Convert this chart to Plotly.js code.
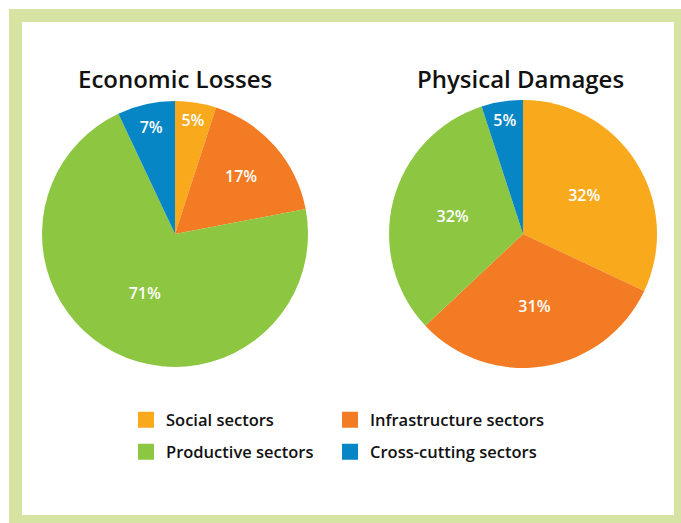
<!DOCTYPE html>
<html>
<head>
<meta charset="utf-8">
<script src="https://cdn.plot.ly/plotly-3.0.1.min.js"></script>
<style>
  html, body { margin: 0; padding: 0; background: #ffffff; overflow: hidden; }
  #wrap { position: relative; width: 681px; height: 523px; overflow: hidden; }
  #frame { position: absolute; left: 9px; top: 9px; width: 652px; height: 493px;
           border: 13px solid #d5e4a2; pointer-events: none; }
  #chart { position: absolute; left: 0; top: 0; width: 681px; height: 523px; }
</style>
</head>
<body>
<div id="wrap">
  <div id="frame"></div>
  <div id="chart"></div>
</div>
<script>
// ---- data ----
const categories = ["Social sectors", "Infrastructure sectors", "Productive sectors", "Cross-cutting sectors"];
const economicLosses = [5, 17, 71, 7];
const physicalDamages = [32, 31, 32, 5];
const chartTitles = ["Economic Losses", "Physical Damages"];
const colors = ["#f9a91c", "#f37b23", "#8dc641", "#0686c5"];
const legendIds = ["legend", "legend2", "legend3", "legend4"];

const FONT = "'Open Sans', 'Noto Sans', sans-serif";

function pieTrace(values, domain) {
  return {
    type: "pie",
    labels: categories,
    values: values,
    sort: false,
    direction: "clockwise",
    rotation: 0,
    marker: { colors: colors, line: { width: 0 } },
    texttemplate: "%{value}%",
    textposition: "inside",
    insidetextorientation: "horizontal",
    textfont: { color: "#ffffff", size: 16, family: FONT, weight: 600 },
    hoverinfo: "label+percent",
    showlegend: false,
    domain: domain
  };
}

const traces = [
  pieTrace(economicLosses, { x: [0.0617, 0.4523], y: [0.2983, 0.8069] }),
  pieTrace(physicalDamages, { x: [0.5712, 0.9648], y: [0.2964, 0.8088] })
];

// legend entries (square swatches), one legend box per entry (2 x 2 grid)
categories.forEach((c, i) => {
  traces.push({
    type: "scatter",
    mode: "markers",
    x: [null], y: [null],
    name: c,
    legend: legendIds[i],
    marker: { symbol: "square", size: 16, color: colors[i], line: { width: 0 } },
    showlegend: true,
    hoverinfo: "skip"
  });
});

const legendCommon = {
  orientation: "v",
  xanchor: "left",
  yanchor: "middle",
  font: { size: 16.5, family: FONT, color: "#111111", weight: 600 },
  bgcolor: "rgba(0,0,0,0)",
  borderwidth: 0,
  itemclick: false,
  itemdoubleclick: false
};
const colX = [126 / 681, 330 / 681];
const rowY = [(523 - 420) / 523, (523 - 452) / 523];

const layout = {
  width: 681,
  height: 523,
  margin: { l: 0, r: 0, t: 0, b: 0 },
  paper_bgcolor: "rgba(0,0,0,0)",
  plot_bgcolor: "rgba(0,0,0,0)",
  xaxis: { visible: false, domain: [0, 0.01] },
  yaxis: { visible: false, domain: [0, 0.01] },
  legend: Object.assign({}, legendCommon, { x: colX[0], y: rowY[0] }),
  legend2: Object.assign({}, legendCommon, { x: colX[1], y: rowY[0] }),
  legend3: Object.assign({}, legendCommon, { x: colX[0], y: rowY[1] }),
  legend4: Object.assign({}, legendCommon, { x: colX[1], y: rowY[1] }),
  annotations: [
    { text: chartTitles[0], x: 175 / 681, y: (523 - 78) / 523 },
    { text: chartTitles[1], x: 520 / 681, y: (523 - 78) / 523 }
  ].map(a => Object.assign(a, {
    xref: "paper", yref: "paper", showarrow: false,
    xanchor: "center", yanchor: "middle",
    font: { size: 24, family: FONT, color: "#111111", weight: 600 }
  })),
  showlegend: true
};

Plotly.newPlot("chart", traces, layout, { displayModeBar: false, staticPlot: true });
</script>
</body>
</html>
